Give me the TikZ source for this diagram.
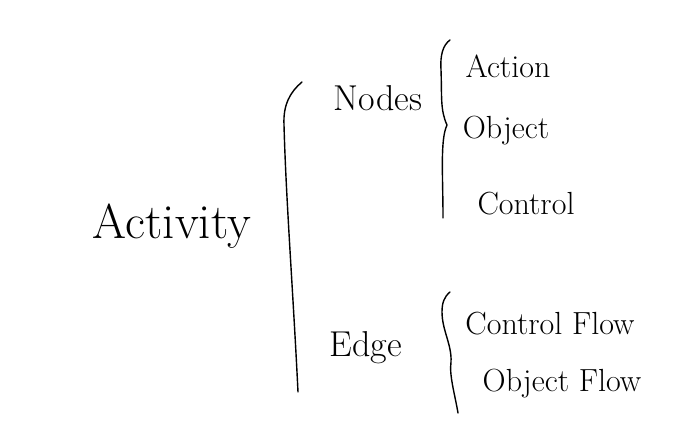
\documentclass[tikz,border=0pt]{standalone}
\begin{document}
\begin{tikzpicture}[x=1pt,y=-1pt,
  big/.style={font=\fontsize{49}{54}\selectfont, inner sep=0pt},
  mid/.style={font=\fontsize{36}{40}\selectfont, inner sep=0pt},
  small/.style={font=\fontsize{32}{36}\selectfont, inner sep=0pt},
  brace/.style={line width=1.4pt, line cap=round, line join=round}]
\useasboundingbox (0,0) rectangle (700,435);
\fill[white] (0,0) rectangle (700,435);
\node[big] (act) at (172,226) {Activity};
\node[mid] (nodes) at (378,98) {Nodes};
\node[mid] (edge) at (366,348) {Edge};
\node[small] (action) at (508,66) {Action};
\node[small] (object) at (506,131) {Object};
\node[small] (control) at (526,204) {Control};
\node[small] (cflow) at (550,324) {Control Flow};
\node[small] (oflow) at (562,384) {Object Flow};
% big bracket
\draw[brace] (302,82) .. controls (290,92) and (283,105) .. (284,125)
  .. controls (286,200) and (293,290) .. (298,392);
% nodes bracket
\draw[brace] (450,40) .. controls (443,45) and (440,55) .. (441,70)
  .. controls (442,95) and (440,110) .. (447,125)
  .. controls (440,140) and (443,175) .. (443,218);
% edge bracket
\draw[brace] (450,292) .. controls (444,297) and (442,303) .. (442,312)
  .. controls (442,330) and (452,345) .. (451,362)
  .. controls (449,375) and (455,395) .. (458,413);
\end{tikzpicture}
\end{document}
